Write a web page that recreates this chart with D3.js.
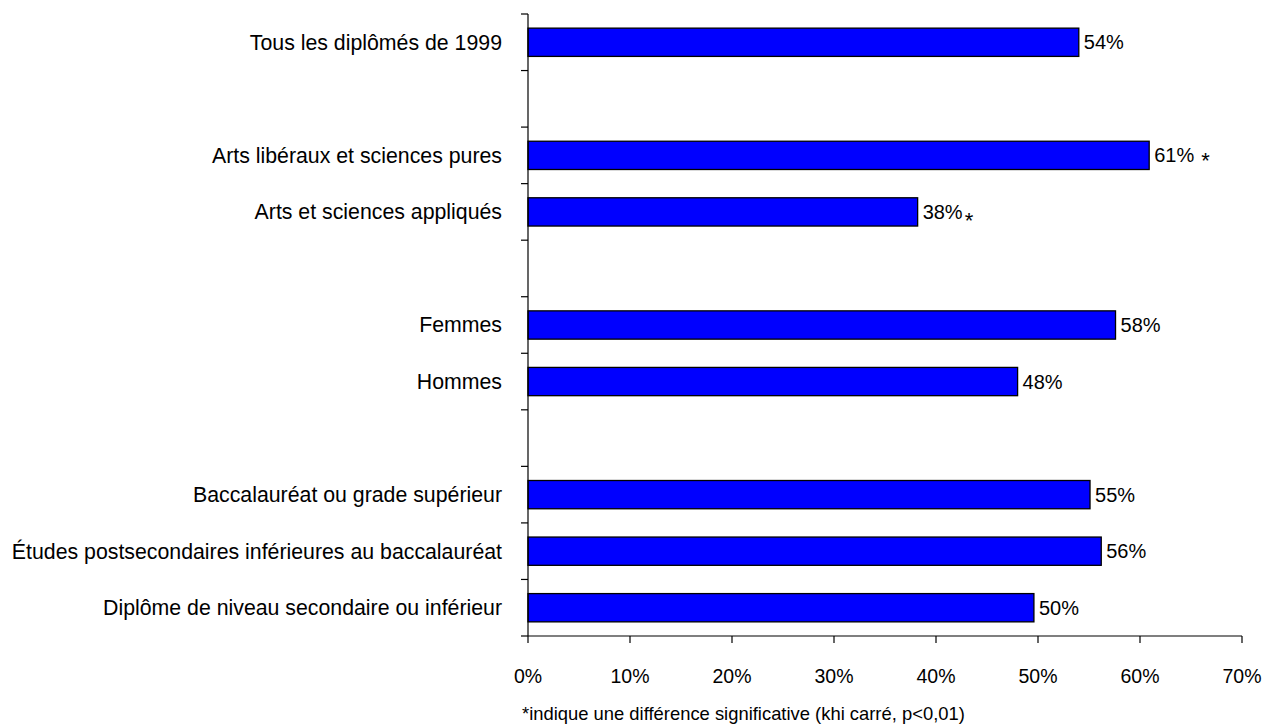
<!DOCTYPE html>
<html>
<head>
<meta charset="utf-8">
<script src="https://cdn.jsdelivr.net/npm/d3@7"></script>
<style>
  html, body { margin: 0; padding: 0; background: #fff; }
  svg { display: block; font-family: "Liberation Sans", Arial, Helvetica, sans-serif; }
  text { white-space: pre; }
</style>
</head>
<body>
<svg id="chart" width="1265" height="724"></svg>
<script>
// Categories top to bottom; blank entries are spacer rows between groups
const categories = [
  "Tous les diplômés de 1999",
  "",
  "Arts libéraux et sciences pures",
  "Arts et sciences appliqués",
  " ",
  "Femmes",
  "Hommes",
  "  ",
  "Baccalauréat ou grade supérieur",
  "Études postsecondaires inférieures au baccalauréat",
  "Diplôme de niveau secondaire ou inférieur"
];
// Percentages (null for spacer rows)
const values = [54.0, null, 60.9, 38.2, null, 57.6, 48.0, null, 55.1, 56.2, 49.6];
// Significance markers
const significant = [false, false, true, true, false, false, false, false, false, false, false];
const xTicks = [0, 10, 20, 30, 40, 50, 60, 70];
const footnote = "*indique une différence significative (khi carré, p<0,01)";

const svg = d3.select("#chart");
const plotLeft = 528, plotRight = 1242, plotTop = 14, plotBottom = 636;

const x = d3.scaleLinear().domain([0, 70]).range([plotLeft, plotRight]);
const y = d3.scaleBand().domain(categories).range([plotTop, plotBottom])
  .paddingInner(0.5).paddingOuter(0.25);

const rows = categories.map((c, i) => ({ cat: c, v: values[i], sig: significant[i] }));
const filled = rows.filter(d => d.v !== null);

// Bars
svg.append("g").selectAll("rect")
  .data(filled)
  .join("rect")
  .attr("x", x(0))
  .attr("y", d => y(d.cat))
  .attr("width", d => x(d.v) - x(0))
  .attr("height", y.bandwidth())
  .attr("fill", "#0000ff")
  .attr("stroke", "#000")
  .attr("stroke-width", 1.3);

// Value labels
const vl = svg.append("g").selectAll("text")
  .data(filled)
  .join("text")
  .attr("x", d => x(d.v) + 5)
  .attr("y", d => y(d.cat) + y.bandwidth() / 2)
  .attr("dy", "0.35em")
  .attr("font-size", 20)
  .attr("fill", "#000")
  .text(d => Math.round(d.v) + "%");
vl.filter(d => d.sig).append("tspan")
  .attr("font-size", 22)
  .attr("dx", (d, i) => i === 0 ? 7 : 2)
  .attr("dy", (d, i) => i === 0 ? 6 : 9)
  .text("*");

// Category labels
svg.append("g").selectAll("text")
  .data(filled)
  .join("text")
  .attr("x", 502)
  .attr("y", d => y(d.cat) + y.bandwidth() / 2)
  .attr("dy", "0.35em")
  .attr("text-anchor", "end")
  .attr("font-size", 21.3)
  .attr("fill", "#000")
  .text(d => d.cat);

// Vertical axis with ticks at band boundaries
const yTickPos = d3.range(categories.length + 1).map(i => y.range()[0] + i * y.step());
const ax = svg.append("g").attr("stroke", "#000").attr("stroke-width", 1.2);
ax.append("line").attr("x1", plotLeft).attr("x2", plotLeft).attr("y1", plotTop).attr("y2", plotBottom);
ax.selectAll("line.yt").data(yTickPos).join("line").attr("class", "yt")
  .attr("x1", plotLeft - 7).attr("x2", plotLeft).attr("y1", d => d).attr("y2", d => d);

// Horizontal axis
ax.append("line").attr("x1", plotLeft).attr("x2", plotRight).attr("y1", plotBottom).attr("y2", plotBottom);
ax.selectAll("line.xt").data(xTicks).join("line").attr("class", "xt")
  .attr("x1", d => x(d)).attr("x2", d => x(d)).attr("y1", plotBottom).attr("y2", plotBottom + 7);

svg.append("g").selectAll("text")
  .data(xTicks)
  .join("text")
  .attr("x", d => x(d))
  .attr("y", 676)
  .attr("dy", "0.35em")
  .attr("text-anchor", "middle")
  .attr("font-size", 19.5)
  .attr("fill", "#000")
  .text(d => d + "%");

// Footnote
svg.append("text")
  .attr("x", 522)
  .attr("y", 714)
  .attr("dy", "0.35em")
  .attr("font-size", 18.4)
  .attr("fill", "#000")
  .text(footnote);
</script>
</body>
</html>
